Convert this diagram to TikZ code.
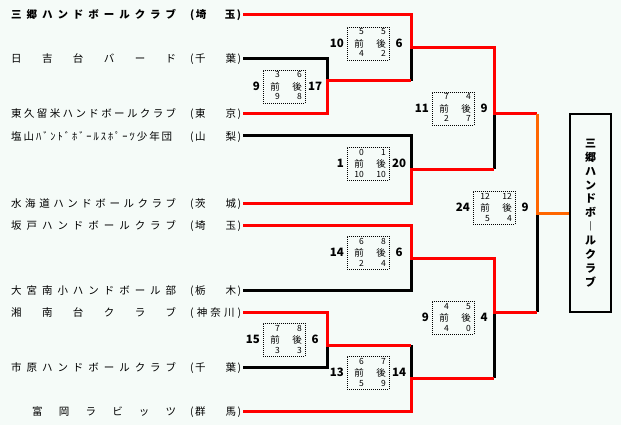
\documentclass[tikz,border=0pt]{standalone}
\usepackage{fontspec}
\setmainfont{Noto Sans CJK JP}
\usetikzlibrary{calc}
\definecolor{bgcol}{HTML}{F5FBF8}
\definecolor{wincol}{HTML}{FF0000}
\definecolor{champcol}{HTML}{FF6600}
\tikzset{
  team/.style={anchor=base west, inner sep=0pt, font=\fontsize{10.5}{12}\selectfont},
  loseline/.style={line width=3pt, black},
  winline/.style={line width=3pt, wincol},
  champline/.style={line width=3pt, champcol},
  scorebox/.style={draw, line width=0.8pt, dash pattern=on 1pt off 1pt, minimum width=42pt, minimum height=33pt, inner sep=0pt},
  half/.style={inner sep=0pt, font=\fontsize{8.5}{10}\selectfont},
  hanlabel/.style={inner sep=0pt, font=\fontsize{9.5}{10}\selectfont},
  score/.style={inner sep=0pt, font=\bfseries\fontsize{11.5}{12}\selectfont},
  champbox/.style={draw, line width=1.2pt, minimum width=41pt, minimum height=198pt, inner sep=0pt, align=center, font=\bfseries\fontsize{11}{13.9}\selectfont},
}
\newcommand\matchbox[9]{%
  \node[scorebox, anchor=north west] (#1) at (#2,#3) {};
  \node[half, anchor=base east] (#1-a) at (#2+17,#3+8) {#4};
  \node[half, anchor=base east] (#1-b) at (#2+39,#3+8) {#5};
  \node[hanlabel] (#1-c) at (#2+12,#3+16.5) {前};
  \node[hanlabel] (#1-d) at (#2+34,#3+16.5) {後};
  \node[half, anchor=base east] (#1-e) at (#2+17,#3+30) {#6};
  \node[half, anchor=base east] (#1-f) at (#2+39,#3+30) {#7};
  \node[score, anchor=east] (#1-l) at (#2-3,#3+16.5) {#8};
  \node[score] (#1-r) at (#2+52,#3+16.5) {#9};
}
\newcommand\pTwo[2]{\makebox[51pt][s]{(\hspace{1.5pt}#1\hfill #2\hspace{1.5pt})}}
\newcommand\pThree[3]{\makebox[51pt][s]{(\hfill #1\hfill #2\hfill #3\hfill)}}
\begin{document}
\begin{tikzpicture}[x=1pt,y=-1pt]
\fill[bgcol] (0,0) rectangle (621,425);
\useasboundingbox (0,0) rectangle (621,425);

% team names
\node[team] (n1) at (11,19) {\bfseries\makebox[165pt][s]{三\hfill 郷\hfill ハ\hfill ン\hfill ド\hfill ボ\hfill ー\hfill ル\hfill ク\hfill ラ\hfill ブ}\hspace{14pt}\pTwo{埼}{玉}};
\node[team] (n2) at (11,63) {\makebox[165pt][s]{日\hfill 吉\hfill 台\hfill バ\hfill ー\hfill ド}\hspace{14pt}\pTwo{千}{葉}};
\node[team] (n3) at (11,118) {\makebox[165pt][s]{東\hfill 久\hfill 留\hfill 米\hfill ハ\hfill ン\hfill ド\hfill ボ\hfill ー\hfill ル\hfill ク\hfill ラ\hfill ブ}\hspace{14pt}\pTwo{東}{京}};
\node[team] (n4) at (11,140) {\makebox[161pt][s]{塩\hfill 山\hfill ﾊ\hfill ﾞ\hfill ﾝ\hfill ﾄ\hfill ﾞ\hfill ﾎ\hfill ﾞ\hfill ｰ\hfill ﾙ\hfill ｽ\hfill ﾎ\hfill ﾟ\hfill ｰ\hfill ﾂ\hfill 少\hfill 年\hfill 団}\hspace{18pt}\pTwo{山}{梨}};
\node[team] (n5) at (11,207) {\makebox[165pt][s]{水\hfill 海\hfill 道\hfill ハ\hfill ン\hfill ド\hfill ボ\hfill ー\hfill ル\hfill ク\hfill ラ\hfill ブ}\hspace{14pt}\pTwo{茨}{城}};
\node[team] (n6) at (11,229) {\makebox[165pt][s]{坂\hfill 戸\hfill ハ\hfill ン\hfill ド\hfill ボ\hfill ー\hfill ル\hfill ク\hfill ラ\hfill ブ}\hspace{14pt}\pTwo{埼}{玉}};
\node[team] (n7) at (11,294) {\makebox[165pt][s]{大\hfill 宮\hfill 南\hfill 小\hfill ハ\hfill ン\hfill ド\hfill ボ\hfill ー\hfill ル\hfill 部}\hspace{14pt}\pTwo{栃}{木}};
\node[team] (n8) at (11,316) {\makebox[165pt][s]{湘\hfill 南\hfill 台\hfill ク\hfill ラ\hfill ブ}\hspace{14pt}\pThree{神}{奈}{川}};
\node[team] (n9) at (11,371) {\makebox[165pt][s]{市\hfill 原\hfill ハ\hfill ン\hfill ド\hfill ボ\hfill ー\hfill ル\hfill ク\hfill ラ\hfill ブ}\hspace{14pt}\pTwo{千}{葉}};
\node[team] (n10) at (11,415) {\makebox[165pt][s]{\hspace{21pt}富\hfill 岡\hfill ラ\hfill ビ\hfill ッ\hfill ツ}\hspace{14pt}\pTwo{群}{馬}};

% line starts
\coordinate (t1) at (243,15);
\coordinate (t2) at (243,59);
\coordinate (t3) at (243,114);
\coordinate (t4) at (243,136);
\coordinate (t5) at (243,203);
\coordinate (t6) at (243,225);
\coordinate (t7) at (243,290);
\coordinate (t8) at (243,312);
\coordinate (t9) at (243,367);
\coordinate (t10) at (243,411);

% junctions
\coordinate (j1) at (327,81);
\coordinate (j2) at (411,48);
\coordinate (j3) at (411,169);
\coordinate (j4) at (494,114);
\coordinate (j5) at (411,258);
\coordinate (j6) at (327,345);
\coordinate (j7) at (411,378);
\coordinate (j8) at (494,312);
\coordinate (jf) at (537,213);

% champion box
\node[champbox] (champ) at (590.5,213) {三\\郷\\ハ\\ン\\ド\\ボ\\︱\\ル\\ク\\ラ\\ブ};

% losing lines
\draw[loseline] (t2) -| (j1);
\draw[loseline] (t4) -| (j3);
\draw[loseline] (t7) -| (j5);
\draw[loseline] (t9) -| (j6);
\draw[loseline] (j1 -| j2) -- (j2);
\draw[loseline] (j3 -| j4) -- (j4);
\draw[loseline] (j6 -| j7) -- (j7);
\draw[loseline] (j7 -| j8) -- (j8);
\draw[loseline] (j8 -| jf) -- (jf);

% winning lines
\draw[winline] (t3) -| (j1) -- (j1 -| j2);
\draw[winline] (t5) -| (j3) -- (j3 -| j4);
\draw[winline] (t8) -| (j6) -- (j6 -| j7);
\draw[winline] (t10) -| (j7) -- (j7 -| j8);
\draw[winline] (t6) -| (j5) -| (j8) -- (j8 -| jf);
\draw[winline] (t1) -| (j2) -| (j4) -- (j4 -| jf);
\draw[champline] (j4 -| jf) -- (jf) -- (champ.west);

% score boxes
\matchbox{m1}{263}{70}{3}{6}{9}{8}{9}{17}
\matchbox{m2}{347}{27}{5}{5}{4}{2}{10}{6}
\matchbox{m3}{347}{147}{0}{1}{10}{10}{1}{20}
\matchbox{m4}{432}{92}{7}{4}{2}{7}{11}{9}
\matchbox{m5}{347}{236}{6}{8}{2}{4}{14}{6}
\matchbox{m6}{263}{323}{7}{8}{3}{3}{15}{6}
\matchbox{m7}{347}{356}{6}{7}{5}{9}{13}{14}
\matchbox{m8}{432}{301}{4}{5}{4}{0}{9}{4}
\matchbox{mf}{473}{191}{12}{12}{5}{4}{24}{9}
\end{tikzpicture}
\end{document}
